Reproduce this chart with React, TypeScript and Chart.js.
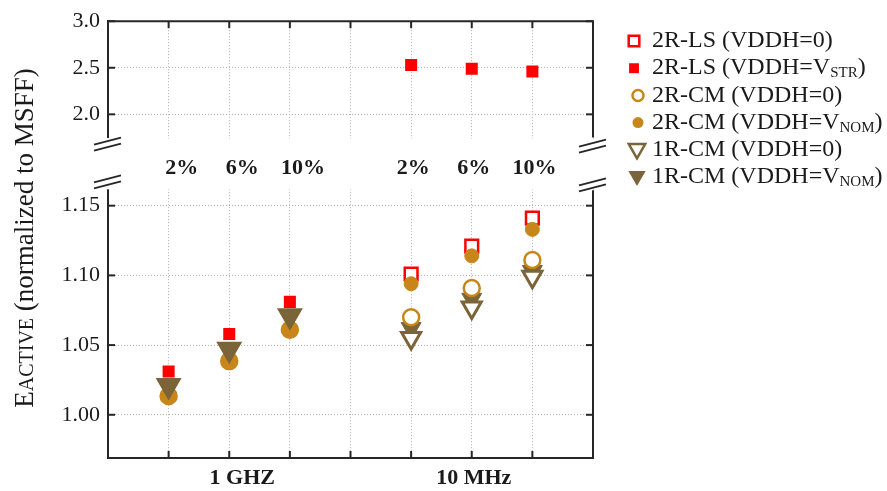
import React, { useEffect, useRef } from 'react';
import { Chart, registerables } from 'chart.js';

Chart.register(...registerables);

// ---------- data ----------
const xPositions = [1, 2, 3, 5, 6, 7];
const groupOfPoint = [0, 0, 0, 1, 1, 1];
const dutyLabels = ['2%', '6%', '10%', '2%', '6%', '10%'];
const groupLabels = ['1 GHZ', '10 MHz'];
const groupCenters = [2, 6];

const ls2rVddh0 = [null, null, null, 1.101, 1.121, 1.141];
const ls2rVstrLower = [1.031, 1.058, 1.081, null, null, null];
const ls2rVstrUpper = [null, null, null, 2.53, 2.49, 2.46];
const cm2rVddh0 = [1.0135, 1.0385, 1.061, 1.07, 1.091, 1.111];
const cm2rVnom = [1.0135, 1.0385, 1.061, 1.094, 1.114, 1.133];
const cm1rVddh0 = [1.021, 1.047, 1.071, 1.055, 1.077, 1.099];
const cm1rVnom = [1.021, 1.047, 1.071, 1.062, 1.083, 1.103];

const upperTicks = [2.0, 2.5, 3.0];
const lowerTicks = [1.0, 1.05, 1.1, 1.15];
const upperMin = 1.75;
const upperMax = 3.0;
const lowerMin = 0.969;
const lowerMax = 1.161;
const xMin = 0;
const xMax = 8;

const legendNames = ['2R-LS (VDDH=0)', '2R-LS (VDDH=V', '2R-CM (VDDH=0)', '2R-CM (VDDH=V', '1R-CM (VDDH=0)', '1R-CM (VDDH=V'];
const legendSubs = ['', 'STR', '', 'NOM', '', 'NOM'];

const titleParts = ['E', 'ACTIVE', ' (normalized to MSFF)'];

// ---------- style ----------
const SERIF = "'Liberation Serif', 'Times New Roman', serif";
const RED = '#ff0000';
const ORANGE = '#c8861a';
const OLIVE = '#7b6437';
const FRAME = '#262626';
const GRID = '#b0b0b0';
const TEXT = '#1a1a1a';
// the first group's annotation text sits a little right of its data columns in the original
const groupTextShift = [13, 2];

function drawMarker(ctx: CanvasRenderingContext2D, kind: string, x: number, y: number, r: number, fill: string, stroke: string, lw: number) {
  ctx.save();
  ctx.beginPath();
  if (kind === 'rect') {
    const s = r * Math.SQRT1_2;
    ctx.rect(x - s, y - s, 2 * s, 2 * s);
  } else if (kind === 'circle') {
    ctx.arc(x, y, r, 0, Math.PI * 2);
  } else {
    ctx.moveTo(x, y + r);
    ctx.lineTo(x - r * 0.866, y - r / 2);
    ctx.lineTo(x + r * 0.866, y - r / 2);
    ctx.closePath();
  }
  ctx.fillStyle = fill;
  ctx.fill();
  if (lw > 0) {
    ctx.lineWidth = lw;
    ctx.strokeStyle = stroke;
    ctx.stroke();
  }
  ctx.restore();
}

const legendMarkers = [
  { kind: 'rect', fill: '#fff', stroke: RED, lw: 2.5, r: 7.5, dx: 0 },
  { kind: 'rect', fill: RED, stroke: RED, lw: 0, r: 7, dx: 0 },
  { kind: 'circle', fill: '#fff', stroke: ORANGE, lw: 2.5, r: 5.5, dx: 4 },
  { kind: 'circle', fill: ORANGE, stroke: ORANGE, lw: 0, r: 5.5, dx: 4 },
  { kind: 'tri', fill: '#fff', stroke: OLIVE, lw: 2.5, r: 9.5, dx: 3 },
  { kind: 'tri', fill: OLIVE, stroke: OLIVE, lw: 0, r: 10, dx: 3 },
];

const panelPlugin = {
  id: 'panelPlugin',
  beforeDatasetsDraw(chart: any) {
    const { ctx, chartArea, scales } = chart;
    const xs = scales.x;
    const yt = scales.yTop;
    const yb = scales.yBot;
    const L = chartArea.left;
    const R = chartArea.right;
    ctx.save();
    // gap between panels
    ctx.fillStyle = '#fff';
    ctx.fillRect(L - 3, yt.bottom + 1, R - L + 6, yb.top - yt.bottom - 2);

    ctx.strokeStyle = FRAME;
    ctx.lineWidth = 2;
    ctx.lineCap = 'butt';
    const line = (x1: number, y1: number, x2: number, y2: number) => {
      ctx.beginPath();
      ctx.moveTo(x1, y1);
      ctx.lineTo(x2, y2);
      ctx.stroke();
    };
    // top and right frame
    line(L - 1, chartArea.top, R + 1, chartArea.top);
    line(R, yt.top, R, yt.bottom);
    line(R, yb.top, R, yb.bottom);

    // inward ticks
    const tl = 7;
    [yt, yb].forEach((s: any) => {
      s.ticks.forEach((t: any) => {
        const y = s.getPixelForValue(t.value);
        line(L, y, L + tl, y);
        line(R, y, R - tl, y);
      });
    });
    xs.ticks.forEach((t: any) => {
      if (t.value <= xMin || t.value >= xMax) return;
      const x = xs.getPixelForValue(t.value);
      line(x, chartArea.top, x, chartArea.top + tl);
      line(x, chartArea.bottom, x, chartArea.bottom - tl);
    });

    // break marks
    const brk = (cx: number, cy: number) => {
      line(cx - 14, cy + 1, cx + 13, cy - 6);
      line(cx - 14, cy + 7, cx + 13, cy);
    };
    brk(L, yt.bottom + 6);
    brk(L, yb.top - 9);
    brk(R, yt.bottom + 8);
    brk(R, yb.top - 6);

    // duty-cycle labels in the gap
    ctx.fillStyle = TEXT;
    ctx.font = `bold 22px ${SERIF}`;
    ctx.textAlign = 'center';
    ctx.textBaseline = 'alphabetic';
    const ly = (yt.bottom + yb.top) / 2 + 10;
    xPositions.forEach((v, i) => {
      ctx.fillText(dutyLabels[i], xs.getPixelForValue(v) + groupTextShift[groupOfPoint[i]], ly);
    });

    // frequency group labels under the x axis
    ctx.textBaseline = 'middle';
    groupCenters.forEach((v, i) => {
      ctx.fillText(groupLabels[i], xs.getPixelForValue(v) + groupTextShift[i], chartArea.bottom + 20);
    });
    ctx.restore();
  },
  afterDraw(chart: any) {
    const { ctx } = chart;
    ctx.save();
    // legend
    const x0 = 634;
    const textX = 652;
    const y0 = 41;
    const step = 27.2;
    ctx.textAlign = 'left';
    ctx.textBaseline = 'middle';
    legendNames.forEach((name, i) => {
      const y = y0 + i * step;
      const m = legendMarkers[i];
      drawMarker(ctx, m.kind, x0 + m.dx, y + (m.kind === 'tri' ? -1 : 0), m.r, m.fill, m.stroke, m.lw);
      ctx.fillStyle = TEXT;
      ctx.font = `24px ${SERIF}`;
      let x = textX;
      ctx.fillText(name, x, y);
      x += ctx.measureText(name).width;
      if (legendSubs[i]) {
        ctx.font = `15px ${SERIF}`;
        ctx.fillText(legendSubs[i], x, y + 5);
        x += ctx.measureText(legendSubs[i]).width;
        ctx.font = `24px ${SERIF}`;
        ctx.fillText(')', x, y);
      }
    });

    // y-axis title
    const sizes = [27, 20, 27];
    let total = 0;
    titleParts.forEach((p, i) => {
      ctx.font = `${sizes[i]}px ${SERIF}`;
      total += ctx.measureText(p).width;
    });
    ctx.fillStyle = TEXT;
    ctx.translate(33, 238);
    ctx.rotate(-Math.PI / 2);
    ctx.textBaseline = 'alphabetic';
    let tx = -total / 2;
    titleParts.forEach((p, i) => {
      ctx.font = `${sizes[i]}px ${SERIF}`;
      ctx.fillText(p, tx, 0);
      tx += ctx.measureText(p).width;
    });
    ctx.restore();
  },
};

function pts(arr: (number | null)[], group?: number) {
  return xPositions
    .map((x, i) => ({ x, y: arr[i], g: groupOfPoint[i] }))
    .filter((p) => p.y !== null && (group === undefined || p.g === group))
    .map((p) => ({ x: p.x, y: p.y })) as { x: number; y: number }[];
}

export default function App() {
  const ref = useRef<HTMLCanvasElement>(null);
  useEffect(() => {
    document.body.style.margin = '0';
    const canvas = ref.current!;
    const tickFont = { family: SERIF, size: 22 };
    const gridOpts = { color: GRID, lineWidth: 1, drawTicks: false };
    const openTri = { yAxisID: 'yBot', pointStyle: 'triangle', pointRotation: 180, pointRadius: 11, backgroundColor: '#fff', borderColor: OLIVE, borderWidth: 3 };
    const openCirc = { yAxisID: 'yBot', pointStyle: 'circle', pointRadius: 8, backgroundColor: '#fff', borderColor: ORANGE, borderWidth: 2.5 };
    // datasets listed top-most first (Chart.js draws index 0 last)
    const chart = new Chart(canvas, {
      type: 'scatter',
      data: {
        datasets: [
          { label: '1R-CM (VDDH=0) 10 MHz', data: pts(cm1rVddh0, 1), ...openTri },
          { label: '2R-CM (VDDH=0) 10 MHz', data: pts(cm2rVddh0, 1), ...openCirc },
          { label: '1R-CM (VDDH=VNOM)', data: pts(cm1rVnom), yAxisID: 'yBot', pointStyle: 'triangle', pointRotation: 180, pointRadius: 11.5, backgroundColor: OLIVE, borderColor: OLIVE, borderWidth: 1 },
          { label: '1R-CM (VDDH=0) 1 GHz', data: pts(cm1rVddh0, 0), ...openTri, pointRadius: 12 },
          { label: '2R-CM (VDDH=VNOM)', data: pts(cm2rVnom), yAxisID: 'yBot', pointStyle: 'circle', pointRadius: 7, backgroundColor: ORANGE, borderColor: ORANGE, borderWidth: 1 },
          { label: '2R-CM (VDDH=0) 1 GHz', data: pts(cm2rVddh0, 0), ...openCirc },
          { label: '2R-LS (VDDH=VSTR)', data: pts(ls2rVstrLower), yAxisID: 'yBot', pointStyle: 'rect', pointRadius: 8.5, backgroundColor: RED, borderColor: RED, borderWidth: 0 },
          { label: '2R-LS (VDDH=VSTR) upper', data: pts(ls2rVstrUpper), yAxisID: 'yTop', pointStyle: 'rect', pointRadius: 8.5, backgroundColor: RED, borderColor: RED, borderWidth: 0 },
          { label: '2R-LS (VDDH=0)', data: pts(ls2rVddh0), yAxisID: 'yBot', pointStyle: 'rect', pointRadius: 9, backgroundColor: '#fff', borderColor: RED, borderWidth: 2.5 },
        ] as any,
      },
      options: {
        animation: false,
        responsive: false,
        events: [],
        layout: { padding: { top: 19, right: 294, left: 0, bottom: 0 } },
        plugins: { legend: { display: false }, tooltip: { enabled: false } },
        scales: {
          x: {
            type: 'linear',
            min: xMin,
            max: xMax,
            afterBuildTicks: (s: any) => {
              const t = [];
              for (let v = xMin; v <= xMax; v++) t.push({ value: v });
              s.ticks = t;
            },
            afterFit: (s: any) => { s.height = 33; },
            grid: gridOpts,
            border: { display: true, color: FRAME, width: 2, dash: [1, 2] },
            ticks: { display: false },
          },
          yBot: {
            type: 'linear',
            position: 'left',
            stack: 'y',
            stackWeight: 269,
            min: lowerMin,
            max: lowerMax,
            afterBuildTicks: (s: any) => { s.ticks = lowerTicks.map((v) => ({ value: v })); },
            afterFit: (s: any) => { s.width = 108; },
            grid: gridOpts,
            border: { display: true, color: FRAME, width: 2, dash: [1, 2] },
            ticks: { padding: 8, color: TEXT, font: tickFont, callback: (v: any) => Number(v).toFixed(2) },
          },
          yGap: {
            type: 'linear',
            position: 'left',
            stack: 'y',
            stackWeight: 53,
            min: 0,
            max: 1,
            afterFit: (s: any) => { s.width = 108; },
            grid: { display: false, drawTicks: false },
            border: { display: false },
            ticks: { display: false },
          },
          yTop: {
            type: 'linear',
            position: 'left',
            stack: 'y',
            stackWeight: 117,
            min: upperMin,
            max: upperMax,
            afterBuildTicks: (s: any) => { s.ticks = upperTicks.map((v) => ({ value: v })); },
            afterFit: (s: any) => { s.width = 108; },
            grid: gridOpts,
            border: { display: true, color: FRAME, width: 2, dash: [1, 2] },
            ticks: { padding: 8, color: TEXT, font: tickFont, callback: (v: any) => Number(v).toFixed(1) },
          },
        },
      } as any,
      plugins: [panelPlugin],
    });
    return () => chart.destroy();
  }, []);
  return <canvas ref={ref} width={887} height={491} style={{ display: 'block', width: 887, height: 491 }} />;
}
